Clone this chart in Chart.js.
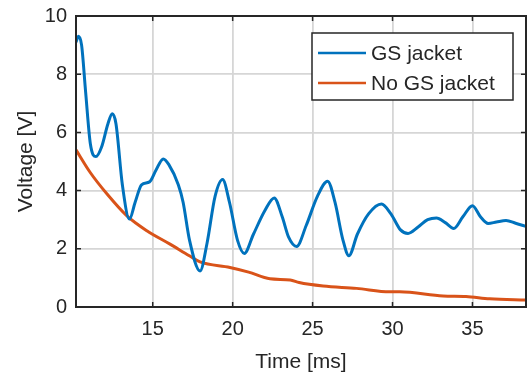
<!DOCTYPE html>
<html>
<head>
<meta charset="utf-8">
<script src="https://cdn.jsdelivr.net/npm/chart.js@4"></script>
<style>
html, body { margin: 0; padding: 0; background: #fff; }
</style>
</head>
<body>
<canvas id="myChart" width="530" height="376"></canvas>
<script>
// Values
const gsTime = [10.2, 10.35, 10.55, 10.8, 11.1, 11.45, 11.8, 12.2, 12.47, 12.7, 13.1, 13.54, 13.9, 14.3, 14.8, 15.2, 15.66, 16.0, 16.6, 16.9, 17.3, 17.96, 18.4, 18.9, 19.37, 19.8, 20.3, 20.73, 21.3, 22.0, 22.6, 23.1, 23.5, 24.0, 24.6, 25.3, 25.94, 26.4, 26.9, 27.27, 27.8, 28.5, 29.31, 29.9, 30.5, 30.97, 31.6, 32.2, 32.75, 33.3, 33.83, 34.4, 35.0, 35.5, 35.98, 36.5, 37.1, 37.7, 38.4];
const gsVolt = [9.1, 9.3, 9.0, 7.4, 5.6, 5.17, 5.5, 6.3, 6.64, 6.3, 4.2, 3.02, 3.6, 4.2, 4.3, 4.7, 5.09, 4.9, 4.2, 3.6, 2.3, 1.24, 2.2, 3.8, 4.38, 3.6, 2.3, 1.84, 2.5, 3.3, 3.75, 3.1, 2.4, 2.08, 2.8, 3.8, 4.32, 3.6, 2.3, 1.76, 2.5, 3.2, 3.54, 3.2, 2.65, 2.53, 2.75, 3.0, 3.06, 2.9, 2.7, 3.1, 3.48, 3.1, 2.87, 2.92, 2.97, 2.88, 2.76];
const noGsTime = [10.2, 11.08, 12.13, 13.37, 14.63, 16.08, 17.29, 17.96, 19.83, 21.0, 22.33, 23.6, 24.16, 25.66, 27.75, 29.83, 30.45, 33.16, 34.6, 36.08, 38.4];
const noGsVolt = [5.4, 4.63, 3.89, 3.14, 2.62, 2.16, 1.76, 1.55, 1.36, 1.2, 0.97, 0.93, 0.84, 0.72, 0.64, 0.52, 0.52, 0.38, 0.36, 0.28, 0.24];
const seriesLabels = ['GS jacket', 'No GS jacket'];
const xTickVals = [15, 20, 25, 30, 35];
const yTickVals = [0, 2, 4, 6, 8, 10];

const textColor = '#262626';
const fontFamily = '"Liberation Sans", Arial, Helvetica, sans-serif';

function toPoints(xs, ys) {
    return xs.map((x, i) => ({ x: x, y: ys[i] }));
}

// Draws the closed axes box, inward tick marks and the boxed legend
const boxPlugin = {
    id: 'box',
    afterDraw(chart) {
        const { ctx, chartArea: a, scales } = chart;
        ctx.save();
        ctx.strokeStyle = textColor;
        ctx.lineWidth = 1.5;
        ctx.beginPath();
        xTickVals.forEach(v => {
            const px = scales.x.getPixelForValue(v);
            ctx.moveTo(px, a.bottom); ctx.lineTo(px, a.bottom - 5);
            ctx.moveTo(px, a.top); ctx.lineTo(px, a.top + 5);
        });
        yTickVals.forEach(v => {
            const py = scales.y.getPixelForValue(v);
            ctx.moveTo(a.left, py); ctx.lineTo(a.left + 5, py);
            ctx.moveTo(a.right, py); ctx.lineTo(a.right - 5, py);
        });
        ctx.stroke();

        ctx.lineWidth = 2;
        ctx.strokeRect(a.left, a.top, a.right - a.left, a.bottom - a.top);

        // legend
        const bx = a.right - 214, by = a.top + 17, bw = 201, bh = 67;
        ctx.fillStyle = '#fff';
        ctx.fillRect(bx, by, bw, bh);
        ctx.lineWidth = 1.5;
        ctx.strokeStyle = textColor;
        ctx.strokeRect(bx, by, bw, bh);
        ctx.font = '21px ' + fontFamily;
        ctx.textBaseline = 'middle';
        chart.data.datasets.forEach((ds, i) => {
            const cy = by + 20 + i * 30;
            ctx.strokeStyle = ds.borderColor;
            ctx.lineWidth = 2.5;
            ctx.beginPath();
            ctx.moveTo(bx + 6, cy); ctx.lineTo(bx + 54, cy);
            ctx.stroke();
            ctx.fillStyle = textColor;
            ctx.fillText(ds.label, bx + 59, cy + 1);
        });
        ctx.restore();
    }
};

const ctx = document.getElementById('myChart').getContext('2d');
const myChart = new Chart(ctx, {
    type: 'line',
    data: {
        datasets: [{
            label: seriesLabels[0],
            data: toPoints(gsTime, gsVolt),
            borderColor: '#0072BD',
            borderWidth: 3,
            cubicInterpolationMode: 'monotone',
            pointRadius: 0,
            fill: false
        }, {
            label: seriesLabels[1],
            data: toPoints(noGsTime, noGsVolt),
            borderColor: '#D95319',
            borderWidth: 3,
            cubicInterpolationMode: 'monotone',
            pointRadius: 0,
            fill: false
        }]
    },
    options: {
        responsive: false,
        animation: false,
        layout: { padding: { left: 10, right: 4, top: 16, bottom: 0 } },
        plugins: {
            legend: { display: false },
            tooltip: { enabled: false }
        },
        scales: {
            x: {
                type: 'linear',
                min: 10.2,
                max: 38.35,
                afterBuildTicks: s => { s.ticks = xTickVals.map(v => ({ value: v })); },
                afterFit: s => { s.height = 69; s.paddingLeft = 0; s.paddingRight = 0; },
                grid: { color: '#d6d6d6', lineWidth: 1.8, drawTicks: false },
                border: { display: false },
                ticks: {
                    color: textColor,
                    padding: 10,
                    maxRotation: 0,
                    font: { family: fontFamily, size: 20 }
                },
                title: {
                    display: true,
                    text: 'Time [ms]',
                    color: textColor,
                    padding: { top: 0, bottom: 1 },
                    font: { family: fontFamily, size: 21 }
                }
            },
            y: {
                min: 0,
                max: 10,
                afterBuildTicks: s => { s.ticks = yTickVals.map(v => ({ value: v })); },
                afterFit: s => { s.width = 66; s.paddingTop = 0; s.paddingBottom = 0; },
                grid: { color: '#d6d6d6', lineWidth: 1.8, drawTicks: false },
                border: { display: false },
                ticks: {
                    color: textColor,
                    padding: 9,
                    font: { family: fontFamily, size: 20 }
                },
                title: {
                    display: true,
                    text: 'Voltage [V]',
                    color: textColor,
                    font: { family: fontFamily, size: 21 }
                }
            }
        }
    },
    plugins: [boxPlugin]
});
</script>
</body>
</html>
